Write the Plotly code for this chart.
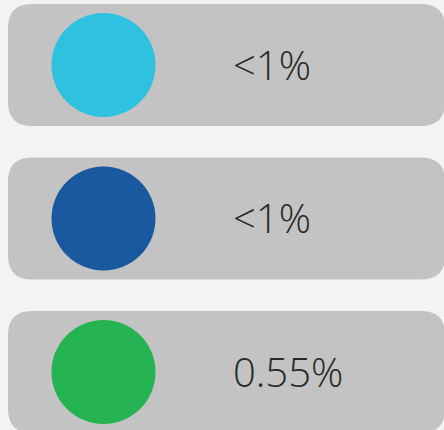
import plotly.graph_objects as go

labels = ["<1%", "<1%", "0.55%"]
dot_colors = ["#2ec1e0", "#1a599f", "#24b350"]
rows = [0, 1, 2]

W, H = 444, 430
row_y0 = 65
row_step = 153.5
box_half_h = 61
box_x0, box_x1 = 8, 445
radius = 24
dot_x = 103.5
text_x = 231

def row_center(i):
    return row_y0 + row_step * i

def rounded_rect(x0, y0, x1, y1, r):
    return (f"M {x0+r},{y0} L {x1-r},{y0} Q {x1},{y0} {x1},{y0+r} "
            f"L {x1},{y1-r} Q {x1},{y1} {x1-r},{y1} L {x0+r},{y1} "
            f"Q {x0},{y1} {x0},{y1-r} L {x0},{y0+r} Q {x0},{y0} {x0+r},{y0} Z")

ys = [row_center(i) for i in rows]

fig = go.Figure()
fig.add_trace(go.Scatter(
    x=[dot_x] * len(rows), y=ys, mode="markers",
    marker=dict(size=104, color=dot_colors, line=dict(width=0)),
    hoverinfo="skip", showlegend=False,
))

shapes = []
annotations = []
for i, lab in zip(rows, labels):
    cy = row_center(i)
    shapes.append(dict(type="path", xref="x", yref="y",
                       path=rounded_rect(box_x0, cy - box_half_h, box_x1, cy + box_half_h, radius),
                       fillcolor="#c2c3c2", line=dict(width=0), layer="below"))
    annotations.append(dict(x=text_x, y=cy - 1, xref="x", yref="y", text=lab,
                            showarrow=False, xanchor="left", yanchor="middle",
                            font=dict(family="Open Sans", size=40, color="#2b2828", weight=300)))

fig.update_layout(
    width=W, height=H, margin=dict(l=0, r=0, t=0, b=0),
    paper_bgcolor="#f3f3f2", plot_bgcolor="#f3f3f2",
    xaxis=dict(range=[0, W], visible=False, fixedrange=True),
    yaxis=dict(range=[H, 0], visible=False, fixedrange=True),
    shapes=shapes, annotations=annotations,
)
fig.write_html("out.html", config={"displayModeBar": False},
               post_script="document.body.style.margin='0';document.body.style.background='#f3f3f2';")
